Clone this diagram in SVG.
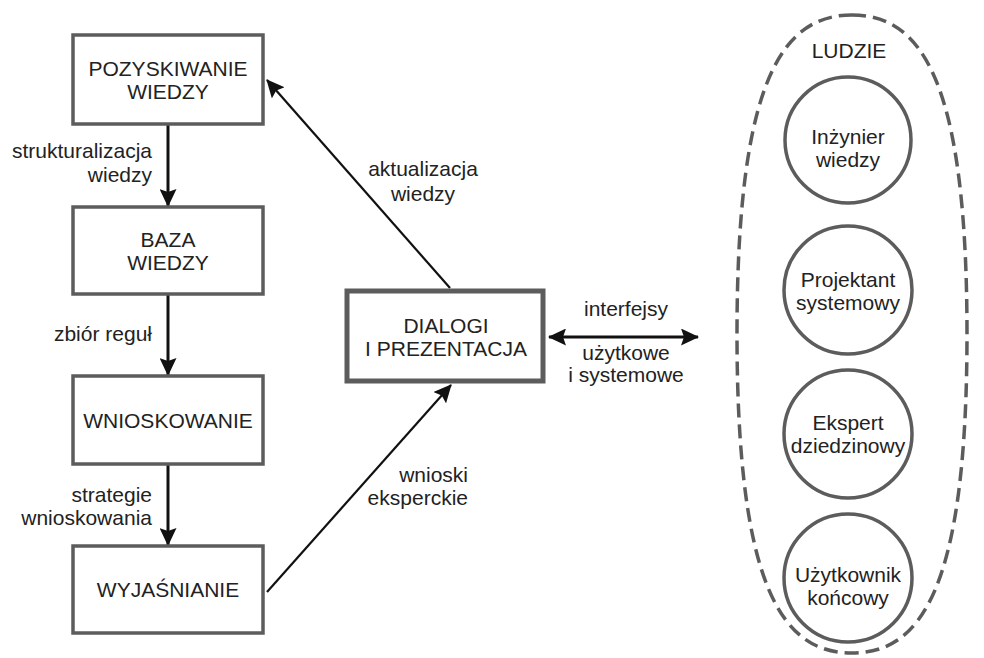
<svg xmlns="http://www.w3.org/2000/svg" width="984" height="658" viewBox="0 0 984 658">
<style>
.box{fill:#fff;stroke:#5c5c5c;stroke-width:3.5}
.boxT{fill:#fff;stroke:#5c5c5c;stroke-width:5}
.circ{fill:#fff;stroke:#5c5c5c;stroke-width:3.5}
.t{font-family:"Liberation Sans",Arial,sans-serif;font-size:21px;fill:#222}
.m{text-anchor:middle}
.e{text-anchor:end}
.c{fill:none;stroke:#111}
</style>
<defs>
<marker id="ah" markerUnits="userSpaceOnUse" markerWidth="19" markerHeight="17" refX="17" refY="8.5" orient="auto">
<path d="M0,0 L18,8.5 L0,17 L3,8.5 z" fill="#111"/>
</marker>
<marker id="ahs" markerUnits="userSpaceOnUse" markerWidth="19" markerHeight="17" refX="17" refY="8.5" orient="auto-start-reverse">
<path d="M0,0 L18,8.5 L0,17 L3,8.5 z" fill="#111"/>
</marker>
</defs>
<g id="ludzie">
<path d="M852,15 C921,15 967,79 967,334 C967,589 921,653 852,653 C783,653 737,589 737,334 C737,79 783,15 852,15 Z" fill="none" stroke="#5c5c5c" stroke-width="3.5" stroke-dasharray="14,7"/>
<text class="t m" x="849" y="58">LUDZIE</text>
</g>
<g id="connectors">
<line class="c" x1="168" y1="124" x2="168" y2="206" stroke-width="3" marker-end="url(#ah)"/>
<line class="c" x1="168" y1="294" x2="168" y2="375" stroke-width="3" marker-end="url(#ah)"/>
<line class="c" x1="168" y1="464" x2="168" y2="545" stroke-width="3" marker-end="url(#ah)"/>
<line class="c" x1="450" y1="288" x2="267" y2="80" stroke-width="2.2" marker-end="url(#ah)"/>
<line class="c" x1="267" y1="592" x2="451" y2="385" stroke-width="2.2" marker-end="url(#ah)"/>
<line class="c" x1="549" y1="337" x2="698" y2="337" stroke-width="3" marker-start="url(#ahs)" marker-end="url(#ah)"/>
<text class="t e" x="152" y="158">strukturalizacja</text>
<text class="t e" x="152" y="182">wiedzy</text>
<text class="t e" x="152" y="341">zbiór reguł</text>
<text class="t e" x="152" y="502">strategie</text>
<text class="t e" x="152" y="525">wnioskowania</text>
<text class="t m" x="423" y="176">aktualizacja</text>
<text class="t m" x="423" y="201">wiedzy</text>
<text class="t e" x="468" y="482">wnioski</text>
<text class="t e" x="468" y="505">eksperckie</text>
<text class="t m" x="626" y="316">interfejsy</text>
<text class="t m" x="626" y="360">użytkowe</text>
<text class="t m" x="626" y="382">i systemowe</text>
</g>
<g id="pozyskiwanie">
<rect class="box" x="73" y="35" width="190" height="89"/>
<text class="t m" x="168" y="76">POZYSKIWANIE</text>
<text class="t m" x="168" y="99">WIEDZY</text>
</g>
<g id="baza">
<rect class="box" x="73" y="207" width="190" height="87"/>
<text class="t m" x="168" y="247">BAZA</text>
<text class="t m" x="168" y="270">WIEDZY</text>
</g>
<g id="wnioskowanie">
<rect class="box" x="73" y="376" width="190" height="88"/>
<text class="t m" x="168" y="428">WNIOSKOWANIE</text>
</g>
<g id="wyjasnianie">
<rect class="box" x="73" y="546" width="190" height="87"/>
<text class="t m" x="168" y="597">WYJAŚNIANIE</text>
</g>
<g id="dialogi">
<rect class="boxT" x="347" y="291" width="196" height="90"/>
<text class="t m" x="446" y="333">DIALOGI</text>
<text class="t m" x="446" y="356">I PREZENTACJA</text>
</g>
<g id="inzynier">
<circle class="circ" cx="848" cy="140" r="63"/>
<text class="t m" x="848" y="144">Inżynier</text>
<text class="t m" x="848" y="167">wiedzy</text>
</g>
<g id="projektant">
<circle class="circ" cx="848" cy="290" r="64"/>
<text class="t m" x="848" y="287">Projektant</text>
<text class="t m" x="848" y="310">systemowy</text>
</g>
<g id="ekspert">
<circle class="circ" cx="848" cy="434" r="64"/>
<text class="t m" x="848" y="430">Ekspert</text>
<text class="t m" x="848" y="453">dziedzinowy</text>
</g>
<g id="uzytkownik">
<circle class="circ" cx="848" cy="578" r="64"/>
<text class="t m" x="848" y="582">Użytkownik</text>
<text class="t m" x="848" y="605">końcowy</text>
</g>
</svg>
